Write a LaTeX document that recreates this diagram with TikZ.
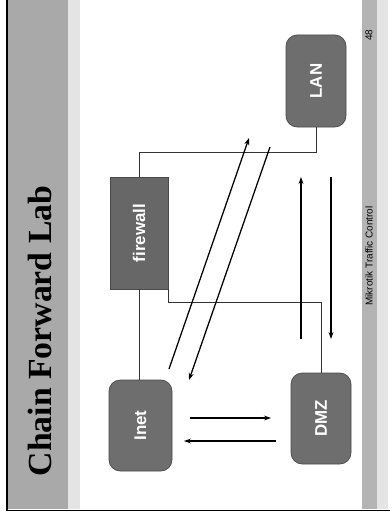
\documentclass[tikz,border=0pt]{standalone}
\usepackage{fontspec}
\setmainfont{Liberation Serif}
\setsansfont{Liberation Sans}
\usetikzlibrary{arrows.meta,calc}
\definecolor{boxgray}{HTML}{6E6E6E}
\definecolor{boxedge}{HTML}{4A4A4A}
\definecolor{fwgray}{HTML}{676767}
\definecolor{titlegray}{HTML}{A9A9A9}
\definecolor{footgray}{HTML}{B4B4B4}
\definecolor{stripgray}{HTML}{E4E4E4}
\tikzset{
  netbox/.style={draw=boxedge, fill=boxgray, rounded corners=8, line width=0.5pt,
    text=white, font=\sffamily\bfseries\fontsize{12}{14}\selectfont},
  fwbox/.style={draw=boxedge, fill=fwgray, line width=0.5pt,
    text=white, font=\sffamily\bfseries\fontsize{12}{14}\selectfont},
  link/.style={draw=black!80, line width=0.45pt},
  flow/.style={draw=black, line width=0.9pt, -{Stealth[length=5pt,width=3.5pt]}}
}
\begin{document}
\begin{tikzpicture}[x=0.25mm, y=-0.25mm]
  \useasboundingbox (0,0) rectangle (390,517);
  % slide bands
  \fill[titlegray] (8,0) rectangle (68,509);
  \fill[stripgray] (68,0) rectangle (80,509);
  \fill[footgray] (362,0) rectangle (377,509);
  \fill[stripgray] (377,0) rectangle (388,509);
  \draw[line width=1pt] (7,0) -- (7,510.5) -- (390,510.5);
  % title and footer
  \node (title) at (40,331) {\rotatebox{90}{\fontsize{24}{28}\selectfont\bfseries Chain Forward Lab}};
  \node (footer) at (369,256) {\rotatebox{90}{\sffamily\fontsize{7.1}{8}\selectfont Mikrotik Traffic Control}};
  \node (page) at (369,35) {\rotatebox{90}{\sffamily\fontsize{7.1}{8}\selectfont 48}};
  % network boxes
  \node[fwbox, minimum width=14.5mm, minimum height=28mm] (fw) at (139,233) {\rotatebox{90}{firewall}};
  \node[netbox, minimum width=15.75mm, minimum height=22.75mm] (inet) at (140.5,425.5) {\rotatebox{90}{Inet}};
  \node[netbox, minimum width=15mm, minimum height=22.75mm] (dmz) at (321,418.5) {\rotatebox{90}{DMZ}};
  \node[netbox, minimum width=15mm, minimum height=23mm] (lan) at (316,81) {\rotatebox{90}{LAN}};
  % wiring
  \draw[link] (fw.north) |- ($(lan.south)+(0,25)$) -- (lan.south);
  \draw[link] (fw.south) -- (fw.south |- inet.north);
  \draw[link] (fw.south east) |- ($(dmz.north)+(0,-70)$) -- (dmz.north);
  % traffic flows
  \coordinate (a1s) at (169,369); \coordinate (a1e) at (249,138);
  \coordinate (a2s) at (270,147); \coordinate (a2e) at (189,380);
  \coordinate (a3s) at (301,339); \coordinate (a3e) at (301,177);
  \coordinate (a4s) at (331,177); \coordinate (a4e) at (331,339);
  \coordinate (a5s) at (190,418); \coordinate (a5e) at (271,418);
  \coordinate (a6s) at (276,441); \coordinate (a6e) at (184,441);
  \draw[flow] (a1s) -- (a1e);
  \draw[flow] (a2s) -- (a2e);
  \draw[flow] (a3s) -- (a3e);
  \draw[flow] (a4s) -- (a4e);
  \draw[flow] (a5s) -- (a5e);
  \draw[flow] (a6s) -- (a6e);
\end{tikzpicture}
\end{document}
